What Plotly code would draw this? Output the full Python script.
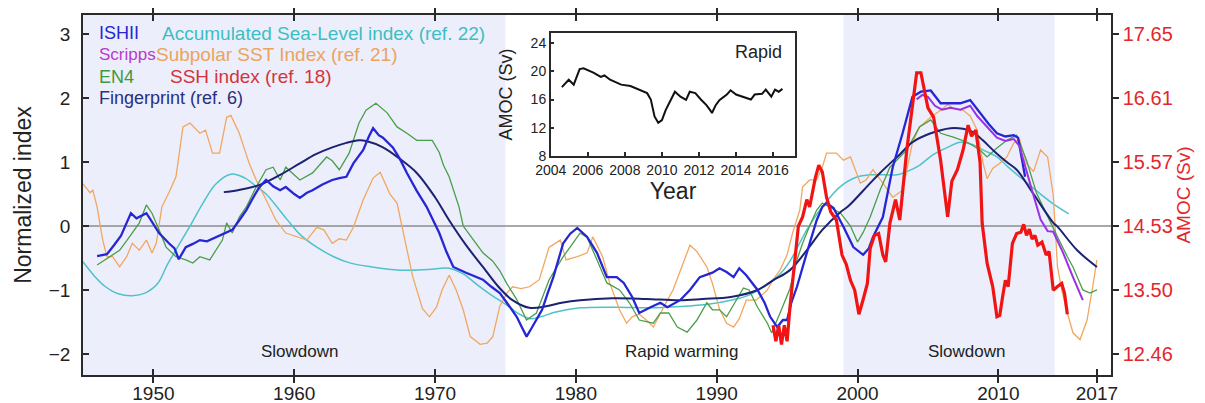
import plotly.graph_objects as go

# ---------------- data ----------------
ISHII_YEAR = [1946.0, 1946.7, 1947.2, 1947.7, 1948.2, 1948.4, 1948.8, 1949.3, 1949.5, 1949.8, 1950.4, 1951.1, 1951.5, 1951.8, 1952.3, 1952.8, 1953.3, 1953.8, 1954.5, 1955.0, 1955.6, 1956.1, 1956.6, 1957.0, 1957.5, 1958.0, 1958.5, 1959.0, 1959.4, 1960.0, 1960.4, 1960.9, 1961.3, 1962.0, 1962.7, 1963.2, 1963.7, 1964.2, 1964.9, 1965.3, 1965.6, 1966.0, 1966.3, 1967.0, 1967.5, 1968.0, 1968.7, 1969.4, 1970.3, 1970.8, 1971.3, 1972.2, 1972.8, 1973.4, 1974.0, 1974.6, 1975.1, 1975.8, 1976.2, 1976.5, 1976.9, 1977.6, 1978.0, 1978.4, 1979.1, 1979.6, 1980.1, 1980.8, 1981.5, 1982.2, 1982.9, 1983.4, 1984.0, 1984.5, 1985.3, 1986.0, 1986.5, 1987.4, 1988.1, 1988.8, 1989.7, 1990.2, 1990.7, 1991.2, 1991.6, 1992.1, 1992.9, 1993.4, 1993.8, 1994.3, 1994.7, 1995.0, 1995.3, 1995.7, 1996.4, 1997.1, 1997.5, 1997.8, 1998.3, 1999.0, 1999.7, 2000.4, 2000.8, 2001.1, 2001.8, 2002.5, 2003.2, 2003.9, 2004.5, 2005.2, 2005.9, 2006.6, 2007.3, 2008.0, 2008.7, 2009.3, 2009.9, 2010.5, 2011.1, 2011.4, 2011.9]
ISHII_VAL = [-0.47, -0.44, -0.30, -0.15, 0.10, 0.20, 0.12, 0.18, 0.20, 0.10, -0.11, -0.27, -0.35, -0.52, -0.33, -0.28, -0.22, -0.24, -0.17, -0.12, -0.06, 0.09, 0.25, 0.41, 0.60, 0.72, 0.62, 0.56, 0.61, 0.50, 0.44, 0.52, 0.56, 0.65, 0.72, 0.75, 0.77, 0.98, 1.19, 1.40, 1.53, 1.42, 1.38, 1.23, 1.05, 0.83, 0.55, 0.30, -0.11, -0.40, -0.64, -0.73, -0.78, -0.84, -0.95, -1.05, -1.20, -1.42, -1.60, -1.73, -1.58, -1.31, -1.05, -0.80, -0.27, -0.12, -0.03, -0.17, -0.42, -0.80, -0.80, -0.89, -1.11, -1.36, -1.27, -1.20, -1.27, -1.16, -1.00, -0.80, -0.73, -0.66, -0.72, -0.80, -0.66, -0.77, -1.00, -1.20, -1.42, -1.58, -1.47, -1.47, -1.20, -0.95, -0.42, 0.09, 0.30, 0.36, 0.28, -0.01, -0.33, -0.45, -0.35, -0.17, 0.14, 0.92, 1.45, 2.02, 2.10, 2.12, 1.92, 1.92, 1.92, 1.97, 1.77, 1.60, 1.45, 1.40, 1.42, 1.38, 0.77]

SCRIPPS_YEAR = [2004.2, 2004.6, 2005.0, 2005.5, 2006.0, 2006.6, 2007.3, 2008.0, 2008.5, 2009.2, 2009.9, 2010.5, 2011.1, 2011.5, 2012.0, 2012.4, 2013.0, 2013.5, 2013.9, 2014.6, 2015.3, 2016.0]
SCRIPPS_VAL = [1.98, 2.05, 2.02, 1.88, 1.82, 1.85, 1.82, 1.88, 1.72, 1.55, 1.38, 1.33, 1.36, 1.25, 0.85, 0.55, 0.10, -0.08, -0.09, -0.42, -0.80, -1.16]

EN4_YEAR = [1946.0, 1946.9, 1947.6, 1948.3, 1949.0, 1949.5, 1949.9, 1950.4, 1950.9, 1951.6, 1952.3, 1952.8, 1953.3, 1954.0, 1954.9, 1955.2, 1955.6, 1956.1, 1956.6, 1957.3, 1958.0, 1958.5, 1959.0, 1959.4, 1960.4, 1961.3, 1962.3, 1962.7, 1963.2, 1963.9, 1964.6, 1965.1, 1965.8, 1966.6, 1967.3, 1968.0, 1968.7, 1969.8, 1970.3, 1970.6, 1971.0, 1971.7, 1972.0, 1972.5, 1973.4, 1974.1, 1974.6, 1975.1, 1975.8, 1976.5, 1977.2, 1978.1, 1979.1, 1980.3, 1980.8, 1981.5, 1982.2, 1983.1, 1983.8, 1984.5, 1985.5, 1986.0, 1986.6, 1987.2, 1987.9, 1988.6, 1989.3, 1989.7, 1990.2, 1990.7, 1991.4, 1991.9, 1992.3, 1992.9, 1993.6, 1993.9, 1994.5, 1995.2, 1995.7, 1996.1, 1996.6, 1997.1, 1997.5, 1998.0, 1998.8, 1999.5, 2000.0, 2000.4, 2000.9, 2001.6, 2002.3, 2003.5, 2004.4, 2005.2, 2005.9, 2006.8, 2007.8, 2008.7, 2009.2, 2009.9, 2010.6, 2011.3, 2012.0, 2012.7, 2013.5, 2014.2, 2014.9, 2015.3, 2016.0, 2016.5, 2017.0]
EN4_VAL = [-0.61, -0.48, -0.38, -0.17, 0.05, 0.33, 0.20, -0.06, -0.33, -0.48, -0.53, -0.58, -0.48, -0.53, -0.22, 0.05, -0.11, 0.14, 0.30, 0.61, 0.88, 0.92, 0.72, 0.92, 0.72, 0.83, 1.08, 1.02, 0.88, 1.14, 1.61, 1.81, 1.92, 1.77, 1.55, 1.45, 1.34, 1.34, 1.15, 0.95, 0.77, 0.30, 0.00, -0.15, -0.42, -0.55, -0.70, -0.90, -1.15, -1.47, -1.36, -0.84, -0.48, -0.11, -0.18, -0.53, -0.89, -1.00, -1.20, -1.47, -1.52, -1.36, -1.36, -1.58, -1.66, -1.47, -1.20, -1.31, -1.31, -1.42, -1.16, -0.97, -1.00, -1.27, -1.52, -1.67, -1.36, -0.98, -0.53, -0.27, 0.00, 0.25, 0.36, 0.30, 0.20, 0.00, -0.25, -0.10, 0.14, 0.56, 0.92, 1.19, 1.55, 1.66, 1.45, 1.39, 1.31, 1.19, 1.08, 1.22, 1.34, 1.42, 1.03, 0.52, 0.14, -0.17, -0.48, -0.64, -1.00, -1.05, -1.00]

FP_YEAR = [1955.0, 1956.0, 1957.5, 1959.0, 1960.4, 1961.5, 1962.7, 1963.7, 1964.6, 1965.1, 1966.3, 1967.5, 1968.7, 1970.0, 1971.0, 1972.2, 1973.4, 1974.5, 1975.5, 1976.7, 1978.0, 1979.0, 1980.3, 1982.6, 1985.0, 1987.4, 1989.0, 1991.0, 1992.9, 1994.0, 1995.2, 1996.5, 1997.5, 1998.8, 1999.3, 2000.9, 2001.6, 2003.0, 2003.9, 2005.2, 2006.6, 2007.5, 2008.2, 2008.9, 2009.8, 2010.6, 2011.3, 2012.5, 2013.9, 2014.2, 2015.6, 2017.0]
FP_VAL = [0.53, 0.56, 0.64, 0.80, 0.98, 1.12, 1.23, 1.30, 1.34, 1.33, 1.23, 1.05, 0.83, 0.45, 0.09, -0.30, -0.64, -0.95, -1.16, -1.28, -1.25, -1.20, -1.16, -1.13, -1.14, -1.16, -1.14, -1.11, -1.00, -0.85, -0.69, -0.35, -0.06, 0.22, 0.30, 0.67, 0.83, 1.12, 1.31, 1.45, 1.53, 1.52, 1.47, 1.34, 1.15, 1.00, 0.88, 0.50, 0.05, -0.01, -0.38, -0.64]

ASL_YEAR = [1945.0, 1945.8, 1946.6, 1947.5, 1948.5, 1949.4, 1950.3, 1951.0, 1951.8, 1952.6, 1953.5, 1954.4, 1955.5, 1956.5, 1957.3, 1958.0, 1959.5, 1960.5, 1961.6, 1962.8, 1964.0, 1965.5, 1967.5, 1969.5, 1971.0, 1972.0, 1973.0, 1974.0, 1975.0, 1976.0, 1976.8, 1977.5, 1978.5, 1980.3, 1983.0, 1985.0, 1987.4, 1989.5, 1991.0, 1992.3, 1993.3, 1994.5, 1995.2, 1996.4, 1997.5, 1998.8, 2000.0, 2000.9, 2002.0, 2002.8, 2003.5, 2004.4, 2005.4, 2006.4, 2007.3, 2008.2, 2009.0, 2009.9, 2010.7, 2011.5, 2013.0, 2014.0, 2015.0]
ASL_VAL = [-0.56, -0.78, -0.95, -1.06, -1.09, -1.05, -0.90, -0.60, -0.30, 0.00, 0.35, 0.65, 0.81, 0.75, 0.62, 0.50, 0.10, -0.15, -0.33, -0.48, -0.58, -0.64, -0.69, -0.68, -0.66, -0.75, -0.92, -1.08, -1.22, -1.38, -1.45, -1.42, -1.35, -1.28, -1.27, -1.28, -1.26, -1.22, -1.16, -1.08, -0.95, -0.75, -0.55, -0.06, 0.30, 0.62, 0.77, 0.80, 0.80, 0.80, 0.85, 0.95, 1.12, 1.23, 1.31, 1.27, 1.18, 1.08, 0.92, 0.77, 0.50, 0.33, 0.19]

SST_YEAR = [1945.0, 1945.5, 1945.7, 1946.0, 1946.4, 1946.7, 1947.1, 1947.6, 1948.1, 1948.5, 1949.0, 1949.5, 1949.9, 1950.2, 1950.6, 1951.1, 1951.6, 1952.1, 1952.6, 1953.3, 1953.7, 1954.2, 1954.7, 1955.2, 1955.5, 1956.1, 1956.8, 1957.3, 1958.0, 1958.7, 1959.4, 1960.2, 1960.9, 1961.6, 1962.1, 1962.7, 1963.2, 1963.7, 1964.2, 1964.9, 1965.6, 1966.1, 1966.8, 1967.3, 1967.7, 1968.4, 1969.1, 1969.6, 1970.1, 1970.5, 1971.0, 1971.5, 1972.0, 1972.5, 1973.2, 1973.7, 1974.1, 1974.6, 1975.1, 1975.5, 1976.1, 1976.7, 1977.4, 1978.1, 1978.9, 1979.3, 1980.1, 1980.8, 1981.2, 1981.9, 1982.4, 1983.1, 1983.6, 1984.0, 1984.5, 1985.0, 1985.5, 1986.0, 1986.5, 1986.9, 1987.6, 1988.1, 1988.6, 1989.3, 1989.7, 1990.2, 1990.7, 1991.2, 1991.6, 1992.1, 1992.8, 1993.6, 1994.0, 1994.5, 1995.0, 1995.4, 1995.9, 1996.1, 1996.6, 1997.1, 1997.5, 1997.8, 1998.5, 1999.0, 1999.5, 2000.2, 2000.6, 2001.1, 2001.8, 2002.5, 2003.2, 2003.9, 2004.4, 2005.2, 2005.9, 2006.4, 2006.8, 2007.5, 2008.0, 2008.5, 2008.9, 2009.2, 2009.6, 2010.1, 2010.6, 2011.1, 2011.5, 2012.0, 2012.5, 2013.0, 2013.5, 2013.9, 2014.2, 2014.5, 2014.9, 2015.3, 2015.8, 2016.3, 2016.7, 2017.0]
SST_VAL = [0.66, 0.52, 0.56, 0.30, -0.22, -0.48, -0.48, -0.64, -0.48, -0.27, -0.38, -0.22, -0.42, -0.27, 0.30, 0.52, 0.77, 1.55, 1.61, 1.45, 1.50, 1.14, 1.14, 1.70, 1.73, 1.45, 0.98, 0.72, 0.41, 0.09, -0.11, -0.17, -0.22, -0.02, -0.06, -0.27, -0.20, -0.22, -0.02, 0.41, 0.75, 0.84, 0.50, 0.36, -0.06, -0.78, -1.29, -1.42, -1.27, -1.00, -0.77, -1.00, -1.31, -1.73, -1.85, -1.83, -1.73, -1.25, -1.05, -0.95, -0.98, -0.95, -0.84, -0.33, -0.22, -0.53, -0.48, -0.42, -0.17, -0.48, -0.89, -1.31, -1.52, -1.42, -1.38, -1.47, -1.58, -1.36, -1.16, -1.00, -0.58, -0.30, -0.40, -0.64, -0.90, -1.30, -1.52, -1.58, -1.45, -1.16, -1.16, -1.00, -0.84, -0.69, -0.45, -0.10, 0.25, 0.61, 0.72, 0.72, 0.92, 1.14, 1.14, 1.03, 1.08, 0.67, 0.72, 0.88, 0.67, 0.45, 0.56, 1.30, 1.55, 1.70, 1.81, 1.90, 1.84, 1.81, 1.72, 1.50, 1.00, 0.74, 0.90, 0.98, 1.08, 1.30, 1.36, 0.98, 0.85, 1.19, 1.08, 0.48, -0.64, -1.00, -1.36, -1.67, -1.78, -1.47, -0.95, -0.53]

# SSH index, read against the right-hand AMOC (Sv) axis
SSH_YEAR = [1994.0, 1994.2, 1994.4, 1994.6, 1994.8, 1995.0, 1995.2, 1995.5, 1995.8, 1996.1, 1996.4, 1996.6, 1996.8, 1997.0, 1997.25, 1997.5, 1997.8, 1998.1, 1998.5, 1998.9, 1999.2, 1999.5, 1999.8, 2000.1, 2000.4, 2000.7, 2000.9, 2001.2, 2001.5, 2001.8, 2002.0, 2002.3, 2002.7, 2003.0, 2003.5, 2004.0, 2004.2, 2004.5, 2004.8, 2005.0, 2005.4, 2005.9, 2006.2, 2006.4, 2006.7, 2007.1, 2007.5, 2007.85, 2008.1, 2008.4, 2008.7, 2008.85, 2009.2, 2009.6, 2009.9, 2010.1, 2010.3, 2010.5, 2010.7, 2011.0, 2011.3, 2011.6, 2011.8, 2012.0, 2012.2, 2012.4, 2012.6, 2012.8, 2013.1, 2013.4, 2013.6, 2013.9, 2014.2, 2014.5, 2014.7, 2014.9]
SSH_SV = [12.92, 12.66, 12.92, 12.61, 12.92, 12.66, 13.21, 13.91, 14.53, 14.68, 14.96, 14.84, 15.07, 15.31, 15.52, 15.41, 15.00, 14.76, 14.63, 14.06, 13.91, 13.65, 13.49, 13.10, 13.34, 13.60, 14.17, 14.38, 14.41, 14.06, 13.95, 14.58, 14.96, 14.63, 15.77, 16.73, 17.02, 17.02, 16.66, 16.45, 16.30, 15.60, 15.05, 14.68, 15.26, 15.45, 15.77, 16.17, 15.99, 16.09, 15.57, 14.58, 13.93, 13.55, 13.06, 13.08, 13.38, 13.65, 13.55, 14.25, 14.41, 14.43, 14.56, 14.38, 14.48, 14.32, 14.38, 14.22, 14.27, 14.06, 14.12, 13.49, 13.55, 13.60, 13.44, 13.10]

RAPID_YEAR = [2004.6, 2004.97, 2005.24, 2005.56, 2005.77, 2006.3, 2006.7, 2006.9, 2007.2, 2007.8, 2008.3, 2008.8, 2009.2, 2009.4, 2009.6, 2009.8, 2010.0, 2010.2, 2010.4, 2010.7, 2011.0, 2011.3, 2011.5, 2011.8, 2012.1, 2012.4, 2012.6, 2012.7, 2012.9, 2013.1, 2013.5, 2013.7, 2014.0, 2014.5, 2014.8, 2015.0, 2015.4, 2015.6, 2015.9, 2016.1, 2016.3, 2016.5]
RAPID_SV = [17.76, 18.8, 18.1, 20.3, 20.4, 19.8, 19.2, 19.4, 18.8, 18.1, 17.9, 17.4, 16.9, 16.0, 13.6, 12.7, 13.1, 14.5, 15.5, 17.1, 16.4, 15.95, 17.1, 16.9, 16.0, 15.2, 14.5, 14.1, 15.2, 15.9, 16.7, 17.3, 16.7, 16.2, 16.0, 16.7, 16.8, 17.4, 16.4, 17.4, 17.1, 17.5]

X_TICKS = [1950, 1960, 1970, 1980, 1990, 2000, 2010, 2017]
Y_TICKS = [-2, -1, 0, 1, 2, 3]
SV_TICKTEXT = ["12.46", "13.50", "14.53", "15.57", "16.61", "17.65"]
INSET_X_TICKS = [2004, 2006, 2008, 2010, 2012, 2014, 2016]
INSET_Y_TICKS = [8, 12, 16, 20, 24]
PERIOD_LABELS = [(1960.4, "Slowdown"), (1987.5, "Rapid warming"), (2007.8, "Slowdown")]
SHADED = [(1945, 1975), (1999, 2014)]

# ---------------- figure ----------------
Y_RANGE = [-2.33, 3.30]
SV0, SVK = 14.532, 1.038   # right axis: Sv = SV0 + SVK * index
FONT = "Liberation Sans, Arial, Helvetica, sans-serif"

C_ISHII = "#2626D4"
C_SCRIPPS = "#9B30E6"
C_EN4 = "#4A9E4A"
C_FP = "#1C2270"
C_ASL = "#4DC3C9"
C_SST = "#F2A75E"
C_SSH = "#F01414"
C_RED_TXT = "#E3262B"

fig = go.Figure()

def line(x, y, color, width, xa="x", ya="y", shape="linear"):
    fig.add_trace(go.Scatter(x=x, y=y, mode="lines", xaxis=xa, yaxis=ya,
                             line=dict(color=color, width=width, shape=shape),
                             showlegend=False, hoverinfo="skip"))

line(ASL_YEAR, ASL_VAL, C_ASL, 1.5, shape="spline")
line(SST_YEAR, SST_VAL, C_SST, 1.3)
line(EN4_YEAR, EN4_VAL, C_EN4, 1.3)
line(FP_YEAR, FP_VAL, C_FP, 2.0, shape="spline")
line(ISHII_YEAR, ISHII_VAL, C_ISHII, 2.3)
line(SCRIPPS_YEAR, SCRIPPS_VAL, C_SCRIPPS, 2.0)
line(SSH_YEAR, SSH_SV, C_SSH, 3.2, ya="y2")
line(RAPID_YEAR, RAPID_SV, "#111111", 2.0, xa="x2", ya="y3")

shapes = []
for a, b in SHADED:
    shapes.append(dict(type="rect", xref="x", yref="paper", x0=a, x1=b, y0=0, y1=1,
                       fillcolor="#ECEEFB", line=dict(width=0), layer="below"))
shapes.append(dict(type="line", xref="paper", yref="y", x0=0, x1=1, y0=0, y1=0,
                   line=dict(color="#8C8C8C", width=1.5), layer="below"))

ann = []
for xp, label in PERIOD_LABELS:
    ann.append(dict(x=xp, y=-1.97, xref="x", yref="y", text=label, showarrow=False,
                    font=dict(size=17, color="#222")))

legend_rows = [
    ("ISHII", C_ISHII, 0.0136, 0.95, 18),
    ("Scripps", "#B83ACB", 0.0136, 0.889, 17),
    ("EN4", "#3E9A3E", 0.0136, 0.828, 18),
    ("Fingerprint (ref. 6)", "#283080", 0.0136, 0.769, 18),
    ("Accumulated Sea-Level index (ref. 22)", "#3CBEC4", 0.0749, 0.95, 19),
    ("Subpolar SST Index (ref. 21)", "#EBA35E", 0.0695, 0.889, 19),
    ("SSH index (ref. 18)", "#D4343A", 0.0827, 0.828, 19),
]
for text, col, px, py, fs in legend_rows:
    ann.append(dict(x=px, y=py, xref="paper", yref="paper", text=text, showarrow=False,
                    xanchor="left", yanchor="middle", font=dict(size=fs, color=col)))

ann.append(dict(x=2015.2, y=22.7, xref="x2", yref="y3", text="Rapid", showarrow=False,
                font=dict(size=18, color="#222")))

axis_common = dict(showgrid=False, zeroline=False, showline=True, linecolor="#2A2A2A",
                   linewidth=1.5, tickcolor="#2A2A2A", tickwidth=1.5, automargin=False)

# The page body adds an 8 px offset, so the figure is sized/margined to compensate.
fig.update_layout(
    width=1197, height=395,
    margin=dict(l=75, r=94, t=7, b=28, autoexpand=False),
    paper_bgcolor="white", plot_bgcolor="white",
    font=dict(family=FONT, color="#222"),
    shapes=shapes, annotations=ann,
    xaxis=dict(range=[1945, 2018], tickvals=X_TICKS, ticks="inside", ticklen=6,
               mirror="allticks", tickfont=dict(size=19), domain=[0, 1], anchor="y",
               **axis_common),
    yaxis=dict(range=Y_RANGE, tickvals=Y_TICKS, ticks="inside", ticklen=6, mirror=True,
               tickfont=dict(size=19), ticklabelstandoff=7,
               title=dict(text="Normalized index", font=dict(size=23), standoff=11),
               domain=[0, 1], anchor="x", **axis_common),
    yaxis2=dict(range=[SV0 + SVK * Y_RANGE[0], SV0 + SVK * Y_RANGE[1]],
                tickvals=[SV0 + SVK * k for k in Y_TICKS], ticktext=SV_TICKTEXT,
                overlaying="y", side="right", anchor="x", ticks="outside", ticklen=6,
                tickfont=dict(size=20, color=C_RED_TXT),
                title=dict(text="AMOC (Sv)", font=dict(size=19, color=C_RED_TXT), standoff=4),
                **axis_common),
    xaxis2=dict(domain=[0.455, 0.693], anchor="y3", range=[2004, 2017.2], tickvals=INSET_X_TICKS,
                ticks="inside", ticklen=4, mirror=True, tickfont=dict(size=14),
                title=dict(text="Year", font=dict(size=23), standoff=2), **axis_common),
    yaxis3=dict(domain=[0.608, 0.95], anchor="x2", range=[8, 25.4], tickvals=INSET_Y_TICKS,
                ticks="inside", ticklen=4, mirror=True, tickfont=dict(size=14),
                title=dict(text="AMOC (Sv)", font=dict(size=18), standoff=13), **axis_common),
)

fig.write_html("out.html")
